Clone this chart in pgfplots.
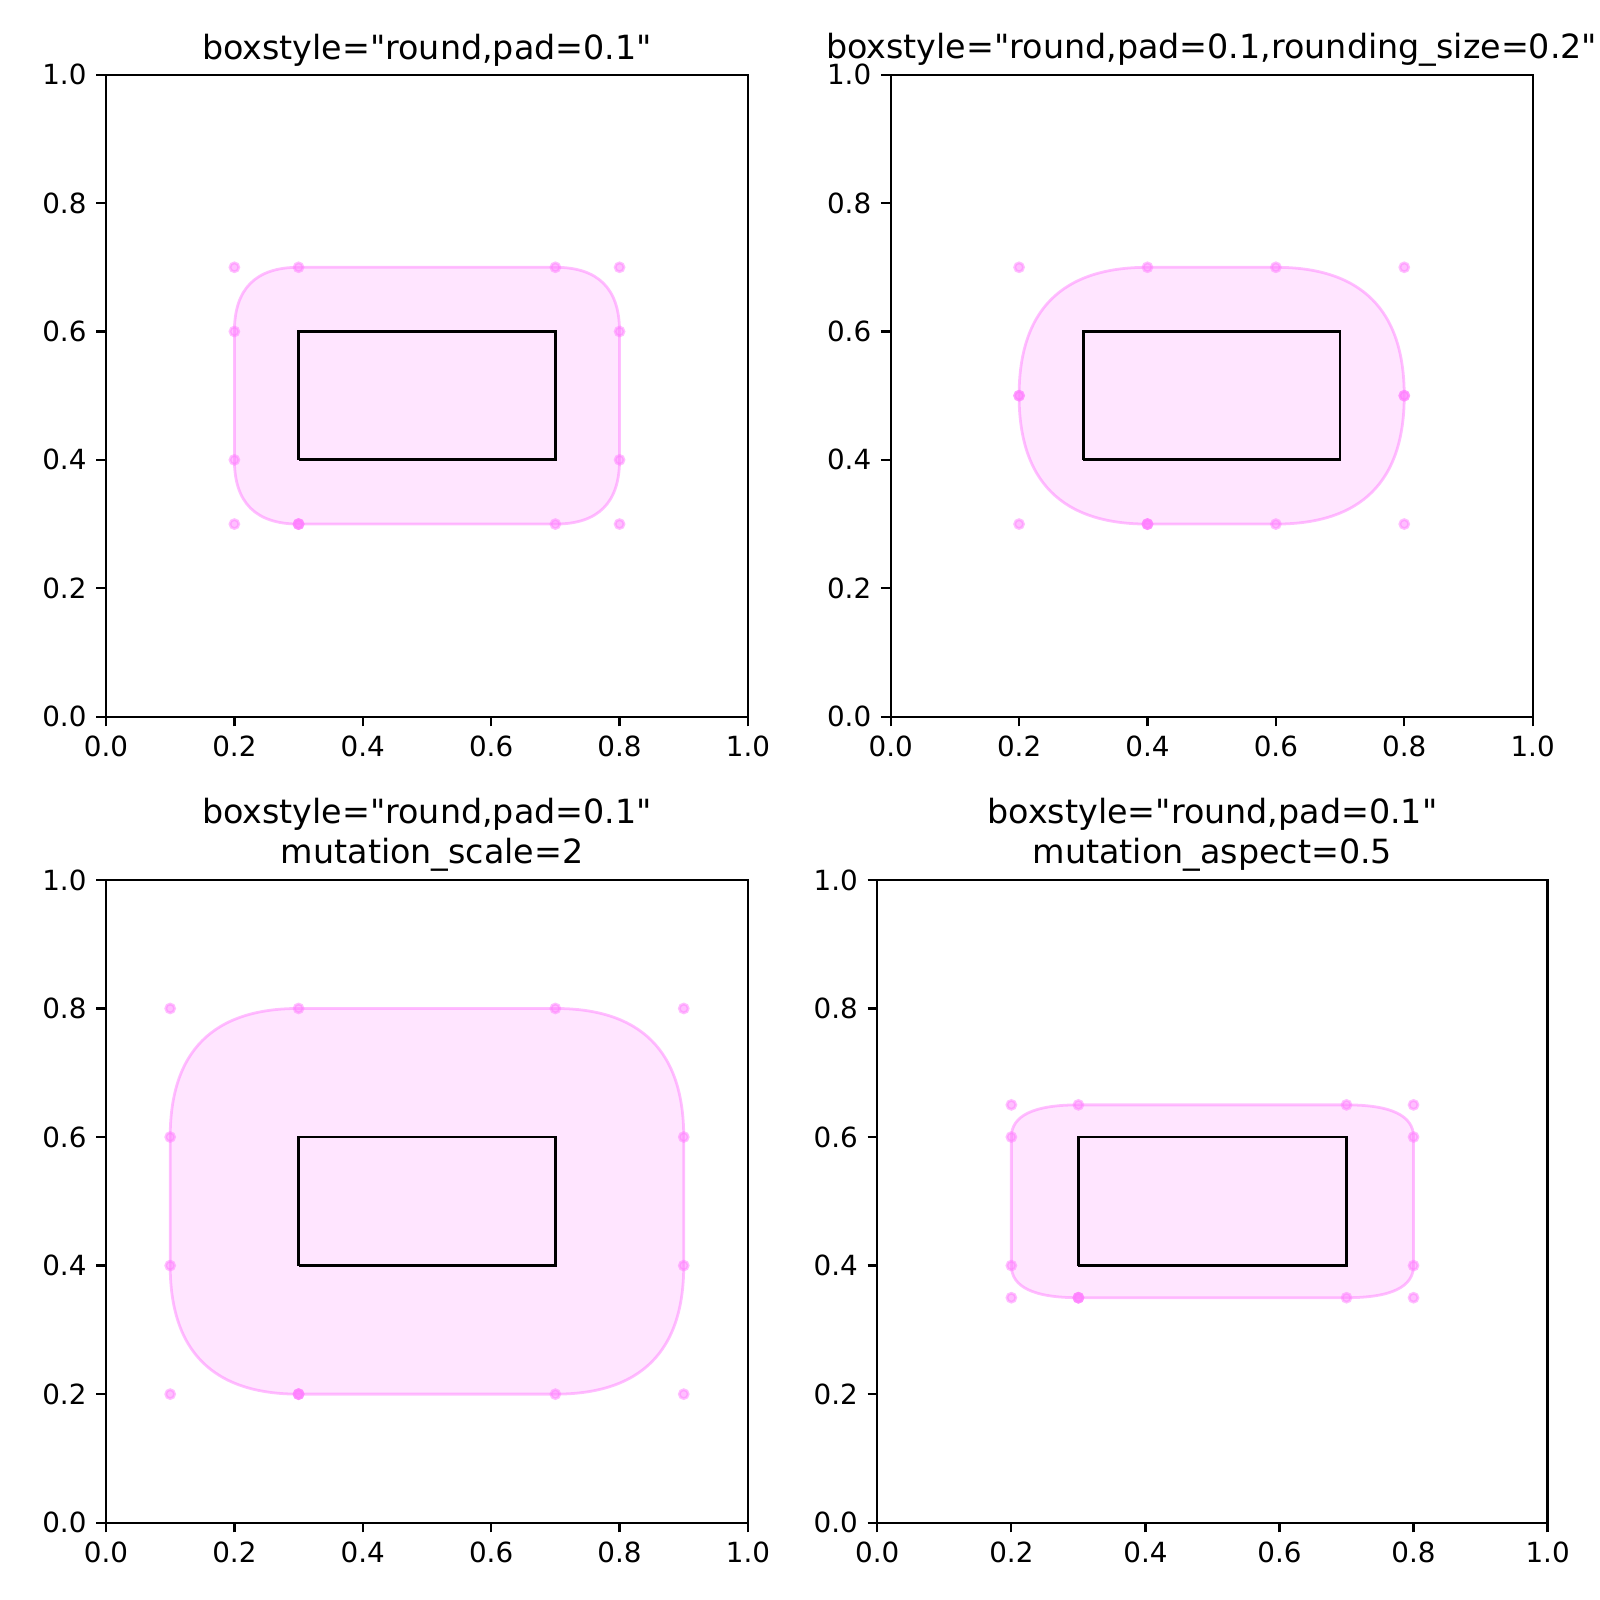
\documentclass[border=0pt]{standalone}
\usepackage{fontspec}
\setmainfont{DejaVu Sans}[Ligatures=TeXOff]
\usepackage{pgfplots}
\pgfplotsset{compat=1.18}

\definecolor{boxfill}{rgb}{1,0.8,1}
\definecolor{boxedge}{rgb}{1,0.5,1}
\newcommand{\q}{\symbol{34}}

\tikzset{
  fancy/.style={fill=boxfill, fill opacity=0.5, draw=boxedge, draw opacity=0.5, line width=1bp},
}
\pgfplotsset{
  boxdemo/.style={
    scale only axis,
    anchor=south west,
    xmin=0, xmax=1, ymin=0, ymax=1,
    xtick={0,0.2,0.4,0.6,0.8,1},
    ytick={0,0.2,0.4,0.6,0.8,1},
    xtick pos=bottom, ytick pos=left,
    tick align=outside,
    major tick length=3.5bp,
    every tick/.style={black, line width=0.8bp},
    axis line style={line width=0.8bp},
    /pgf/number format/assume math mode=true,
    /pgf/number format/.cd, fixed, fixed zerofill, precision=1, /pgfplots/.cd,
    ticklabel style={font=\fontsize{10bp}{12bp}\selectfont},
    title style={font=\fontsize{12bp}{14.4bp}\selectfont, align=center,
      at={(0.5,1)}, anchor=south, yshift=-6.5bp},
    clip=false,
  },
  ctrl/.style={only marks, mark=*, mark size=1.6bp,
    mark options={draw=boxedge, fill=boxedge, opacity=0.5, line width=1bp}},
  bbox/.style={black, line width=1bp, line join=miter, no marks},
}

\begin{document}
\begin{tikzpicture}
\useasboundingbox (0,0) rectangle (576bp,576bp);

% round,pad=0.1
\begin{axis}[boxdemo, at={(38.16bp,318.0bp)}, width=231.1bp, height=231.1bp,
  title={boxstyle=\q round,pad=0.1\q}]
  \draw[fancy] (axis cs:0.3,0.3) -- (axis cs:0.7,0.3)
    .. controls (axis cs:0.7667,0.3) and (axis cs:0.8,0.3333) .. (axis cs:0.8,0.4)
    -- (axis cs:0.8,0.6)
    .. controls (axis cs:0.8,0.6667) and (axis cs:0.7667,0.7) .. (axis cs:0.7,0.7)
    -- (axis cs:0.3,0.7)
    .. controls (axis cs:0.2333,0.7) and (axis cs:0.2,0.6667) .. (axis cs:0.2,0.6)
    -- (axis cs:0.2,0.4)
    .. controls (axis cs:0.2,0.3333) and (axis cs:0.2333,0.3) .. (axis cs:0.3,0.3) -- cycle;
  \addplot[ctrl] coordinates {
    (0.3,0.3) (0.7,0.3) (0.8,0.3) (0.8,0.4) (0.8,0.6) (0.8,0.7) (0.7,0.7)
    (0.3,0.7) (0.2,0.7) (0.2,0.6) (0.2,0.4) (0.2,0.3) (0.3,0.3) (0.3,0.3)};
  \addplot[bbox] coordinates {(0.3,0.4) (0.7,0.4) (0.7,0.6) (0.3,0.6) (0.3,0.4)};
\end{axis}

% round,pad=0.1,rounding_size=0.2
\begin{axis}[boxdemo, at={(320.65bp,318.0bp)}, width=231.1bp, height=231.1bp,
  title={boxstyle=\q round,pad=0.1,rounding\_size=0.2\q}]
  \draw[fancy] (axis cs:0.4,0.3) -- (axis cs:0.6,0.3)
    .. controls (axis cs:0.7333,0.3) and (axis cs:0.8,0.3667) .. (axis cs:0.8,0.5)
    .. controls (axis cs:0.8,0.6333) and (axis cs:0.7333,0.7) .. (axis cs:0.6,0.7)
    -- (axis cs:0.4,0.7)
    .. controls (axis cs:0.2667,0.7) and (axis cs:0.2,0.6333) .. (axis cs:0.2,0.5)
    .. controls (axis cs:0.2,0.3667) and (axis cs:0.2667,0.3) .. (axis cs:0.4,0.3) -- cycle;
  \addplot[ctrl] coordinates {
    (0.4,0.3) (0.6,0.3) (0.8,0.3) (0.8,0.5) (0.8,0.5) (0.8,0.7) (0.6,0.7)
    (0.4,0.7) (0.2,0.7) (0.2,0.5) (0.2,0.5) (0.2,0.3) (0.4,0.3) (0.4,0.3)};
  \addplot[bbox] coordinates {(0.3,0.4) (0.7,0.4) (0.7,0.6) (0.3,0.6) (0.3,0.4)};
\end{axis}

% round,pad=0.1 mutation_scale=2
\begin{axis}[boxdemo, at={(38.16bp,27.83bp)}, width=231.1bp, height=231.4bp,
  title={boxstyle=\q round,pad=0.1\q\\\mbox{\ mutation\_scale=2}}]
  \draw[fancy] (axis cs:0.3,0.2) -- (axis cs:0.7,0.2)
    .. controls (axis cs:0.8333,0.2) and (axis cs:0.9,0.2667) .. (axis cs:0.9,0.4)
    -- (axis cs:0.9,0.6)
    .. controls (axis cs:0.9,0.7333) and (axis cs:0.8333,0.8) .. (axis cs:0.7,0.8)
    -- (axis cs:0.3,0.8)
    .. controls (axis cs:0.1667,0.8) and (axis cs:0.1,0.7333) .. (axis cs:0.1,0.6)
    -- (axis cs:0.1,0.4)
    .. controls (axis cs:0.1,0.2667) and (axis cs:0.1667,0.2) .. (axis cs:0.3,0.2) -- cycle;
  \addplot[ctrl] coordinates {
    (0.3,0.2) (0.7,0.2) (0.9,0.2) (0.9,0.4) (0.9,0.6) (0.9,0.8) (0.7,0.8)
    (0.3,0.8) (0.1,0.8) (0.1,0.6) (0.1,0.4) (0.1,0.2) (0.3,0.2) (0.3,0.2)};
  \addplot[bbox] coordinates {(0.3,0.4) (0.7,0.4) (0.7,0.6) (0.3,0.6) (0.3,0.4)};
\end{axis}

% round,pad=0.1 mutation_aspect=0.5
\begin{axis}[boxdemo, at={(315.83bp,27.83bp)}, width=241.3bp, height=231.4bp,
  title={boxstyle=\q round,pad=0.1\q\\mutation\_aspect=0.5}]
  \draw[fancy] (axis cs:0.3,0.35) -- (axis cs:0.7,0.35)
    .. controls (axis cs:0.7667,0.35) and (axis cs:0.8,0.3667) .. (axis cs:0.8,0.4)
    -- (axis cs:0.8,0.6)
    .. controls (axis cs:0.8,0.6333) and (axis cs:0.7667,0.65) .. (axis cs:0.7,0.65)
    -- (axis cs:0.3,0.65)
    .. controls (axis cs:0.2333,0.65) and (axis cs:0.2,0.6333) .. (axis cs:0.2,0.6)
    -- (axis cs:0.2,0.4)
    .. controls (axis cs:0.2,0.3667) and (axis cs:0.2333,0.35) .. (axis cs:0.3,0.35) -- cycle;
  \addplot[ctrl] coordinates {
    (0.3,0.35) (0.7,0.35) (0.8,0.35) (0.8,0.4) (0.8,0.6) (0.8,0.65) (0.7,0.65)
    (0.3,0.65) (0.2,0.65) (0.2,0.6) (0.2,0.4) (0.2,0.35) (0.3,0.35) (0.3,0.35)};
  \addplot[bbox] coordinates {(0.3,0.4) (0.7,0.4) (0.7,0.6) (0.3,0.6) (0.3,0.4)};
\end{axis}
\end{tikzpicture}
\end{document}
